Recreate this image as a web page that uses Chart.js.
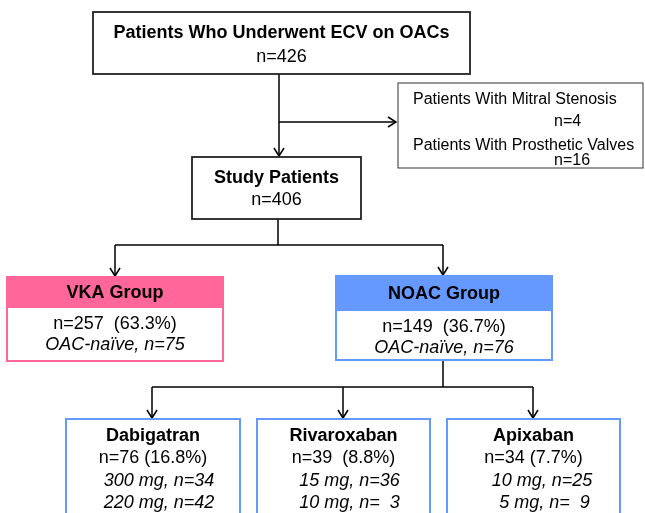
<!DOCTYPE html>
<html>
<head>
<meta charset="utf-8">
<script src="https://cdn.jsdelivr.net/npm/chart.js@4.4.1/dist/chart.umd.min.js"></script>
<style>
html,body{margin:0;padding:0;background:#fff;}
#wrap{width:645px;height:513px;position:relative;}
</style>
</head>
<body>
<div id="wrap"><canvas id="c"></canvas></div>
<script>
// ---- data ----
const topTitle = "Patients Who Underwent ECV on OACs";
const totalN = 426;
const excludedLabels = ["Patients With Mitral Stenosis", "Patients With Prosthetic Valves"];
const excludedN = [4, 16];
const studyTitle = "Study Patients";
const studyN = 406;
const groupNames = ["VKA Group", "NOAC Group"];
const groupN = [257, 149];
const groupPct = ["63.3", "36.7"];
const naiveN = [75, 76];
const drugNames = ["Dabigatran", "Rivaroxaban", "Apixaban"];
const drugN = [76, 39, 34];
const drugPct = ["16.8", "8.8", "7.7"];
const doseLabels = [["300 mg", "220 mg"], ["15 mg", "10 mg"], [" 10 mg", "  5 mg"]];
const doseN = [["34", "42"], ["36", "  3"], ["25", "  9"]];

// ---- layout (pixel-like units on hidden linear axes) ----
const L = {
  top: {x0: 93, y0: 12, x1: 470, y1: 74},
  excl: {x0: 398, y0: 83, x1: 643, y1: 168},
  study: {x0: 192, y0: 157, x1: 361, y1: 219},
  groups: [
    {x0: 7, y0: 277, x1: 223, y1: 361, hy: 308, fill: "#FF6699", border: "#FF6699"},
    {x0: 336, y0: 276, x1: 552, y1: 360, hy: 311, fill: "#6699FF", border: "#6699FF"}
  ],
  drugs: [
    {x0: 66, y0: 419, x1: 240, y1: 530},
    {x0: 257, y0: 419, x1: 430, y1: 530},
    {x0: 447, y0: 419, x1: 620, y1: 530}
  ]
};
const connectors = [
  [{x: 279, y: 74}, {x: 279, y: 156}],
  [{x: 279, y: 122}, {x: 396, y: 122}],
  [{x: 278, y: 219}, {x: 278, y: 245}],
  [{x: 115, y: 245}, {x: 443, y: 245}],
  [{x: 115, y: 245}, {x: 115, y: 276}],
  [{x: 443, y: 245}, {x: 443, y: 275}],
  [{x: 443, y: 360}, {x: 443, y: 387}],
  [{x: 152, y: 387}, {x: 533, y: 387}],
  [{x: 152, y: 387}, {x: 152, y: 418}],
  [{x: 343, y: 387}, {x: 343, y: 418}],
  [{x: 533, y: 387}, {x: 533, y: 418}]
];
const arrows = [
  {x: 279, y: 156, dir: "down"},
  {x: 396, y: 122, dir: "right"},
  {x: 115, y: 276, dir: "down"},
  {x: 443, y: 275, dir: "down"},
  {x: 152, y: 418, dir: "down"},
  {x: 343, y: 418, dir: "down"},
  {x: 533, y: 418, dir: "down"}
];

const FONT = "'Liberation Sans', Arial, Helvetica, sans-serif";

const flowPlugin = {
  id: "flow",
  afterDatasetsDraw(chart) {
    const ctx = chart.ctx;
    const sx = v => chart.scales.x.getPixelForValue(v);
    const sy = v => chart.scales.y.getPixelForValue(v);
    const rect = (b, stroke, lw, fill) => {
      const x = sx(b.x0), y = sy(b.y0), w = sx(b.x1) - x, h = sy(b.y1) - y;
      if (fill) { ctx.fillStyle = fill; ctx.fillRect(x, y, w, h); }
      ctx.strokeStyle = stroke; ctx.lineWidth = lw; ctx.strokeRect(x, y, w, h);
    };
    const text = (s, x, y, font, align) => {
      ctx.font = font; ctx.fillStyle = "#000"; ctx.textAlign = align || "center";
      ctx.textBaseline = "middle"; ctx.fillText(s, sx(x), sy(y));
    };
    ctx.save();
    // arrowheads
    ctx.strokeStyle = "#000"; ctx.lineWidth = 1.5;
    arrows.forEach(a => {
      const x = sx(a.x), y = sy(a.y);
      ctx.beginPath();
      if (a.dir === "down") { ctx.moveTo(x - 5, y - 8); ctx.lineTo(x, y); ctx.lineTo(x + 5, y - 8); }
      else { ctx.moveTo(x - 8, y - 5); ctx.lineTo(x, y); ctx.lineTo(x - 8, y + 5); }
      ctx.stroke();
    });
    // top box
    rect(L.top, "#222", 1.8, "#fff");
    const tc = (L.top.x0 + L.top.x1) / 2;
    text(topTitle, tc, 33, "bold 18px " + FONT);
    text("n=" + totalN, tc, 57, "18px " + FONT);
    // exclusion box
    rect(L.excl, "#333", 1, "#fff");
    text(excludedLabels[0], 413, 100, "16px " + FONT, "left");
    text("n=" + excludedN[0], 554, 122, "16px " + FONT, "left");
    text(excludedLabels[1], 413, 146, "16px " + FONT, "left");
    text("n=" + excludedN[1], 554, 161, "16px " + FONT, "left");
    // study box
    rect(L.study, "#222", 1.8, "#fff");
    const sc = (L.study.x0 + L.study.x1) / 2;
    text(studyTitle, sc, 178, "bold 18px " + FONT);
    text("n=" + studyN, sc, 200, "18px " + FONT);
    // group boxes
    L.groups.forEach((g, i) => {
      const x = sx(g.x0), y = sy(g.y0), w = sx(g.x1) - x, h = sy(g.y1) - y;
      ctx.fillStyle = "#fff"; ctx.fillRect(x, y, w, h);
      ctx.fillStyle = g.fill; ctx.fillRect(x, y, w, sy(g.hy) - y);
      ctx.strokeStyle = g.border; ctx.lineWidth = 2; ctx.strokeRect(x, y, w, h);
      const c = (g.x0 + g.x1) / 2;
      text(groupNames[i], c, (g.y0 + g.hy) / 2 + 1, "bold 18px " + FONT);
      text("n=" + groupN[i] + "  (" + groupPct[i] + "%)", c, g.hy + 16, "18px " + FONT);
      text("OAC-na\u00efve, n=" + naiveN[i], c, g.hy + 37, "italic 18px " + FONT);
    });
    // drug boxes
    L.drugs.forEach((d, i) => {
      rect(d, "#6699FF", 2, "#fff");
      const c = (d.x0 + d.x1) / 2;
      text(drugNames[i], c, 436, "bold 18px " + FONT);
      const sp = i === 1 ? "  " : " ";
      text("n=" + drugN[i] + sp + "(" + drugPct[i] + "%)", c, 458, "18px " + FONT);
      text(doseLabels[i][0] + ", n=" + doseN[i][0], c + 6, 481, "italic 18px " + FONT);
      text(doseLabels[i][1] + ", n=" + doseN[i][1], c + 6, 503, "italic 18px " + FONT);
    });
    ctx.restore();
  }
};

new Chart(document.getElementById("c"), {
  type: "scatter",
  data: {
    datasets: connectors.map(seg => ({
      data: seg,
      showLine: true,
      borderColor: "#000",
      borderWidth: 1.5,
      pointRadius: 0,
      fill: false
    }))
  },
  options: {
    responsive: true,
    maintainAspectRatio: false,
    animation: false,
    layout: {padding: 0},
    plugins: {legend: {display: false}, tooltip: {enabled: false}},
    scales: {
      x: {type: "linear", min: 0, max: 645, display: false},
      y: {type: "linear", min: 0, max: 513, reverse: true, display: false}
    }
  },
  plugins: [flowPlugin]
});
</script>
</body>
</html>
